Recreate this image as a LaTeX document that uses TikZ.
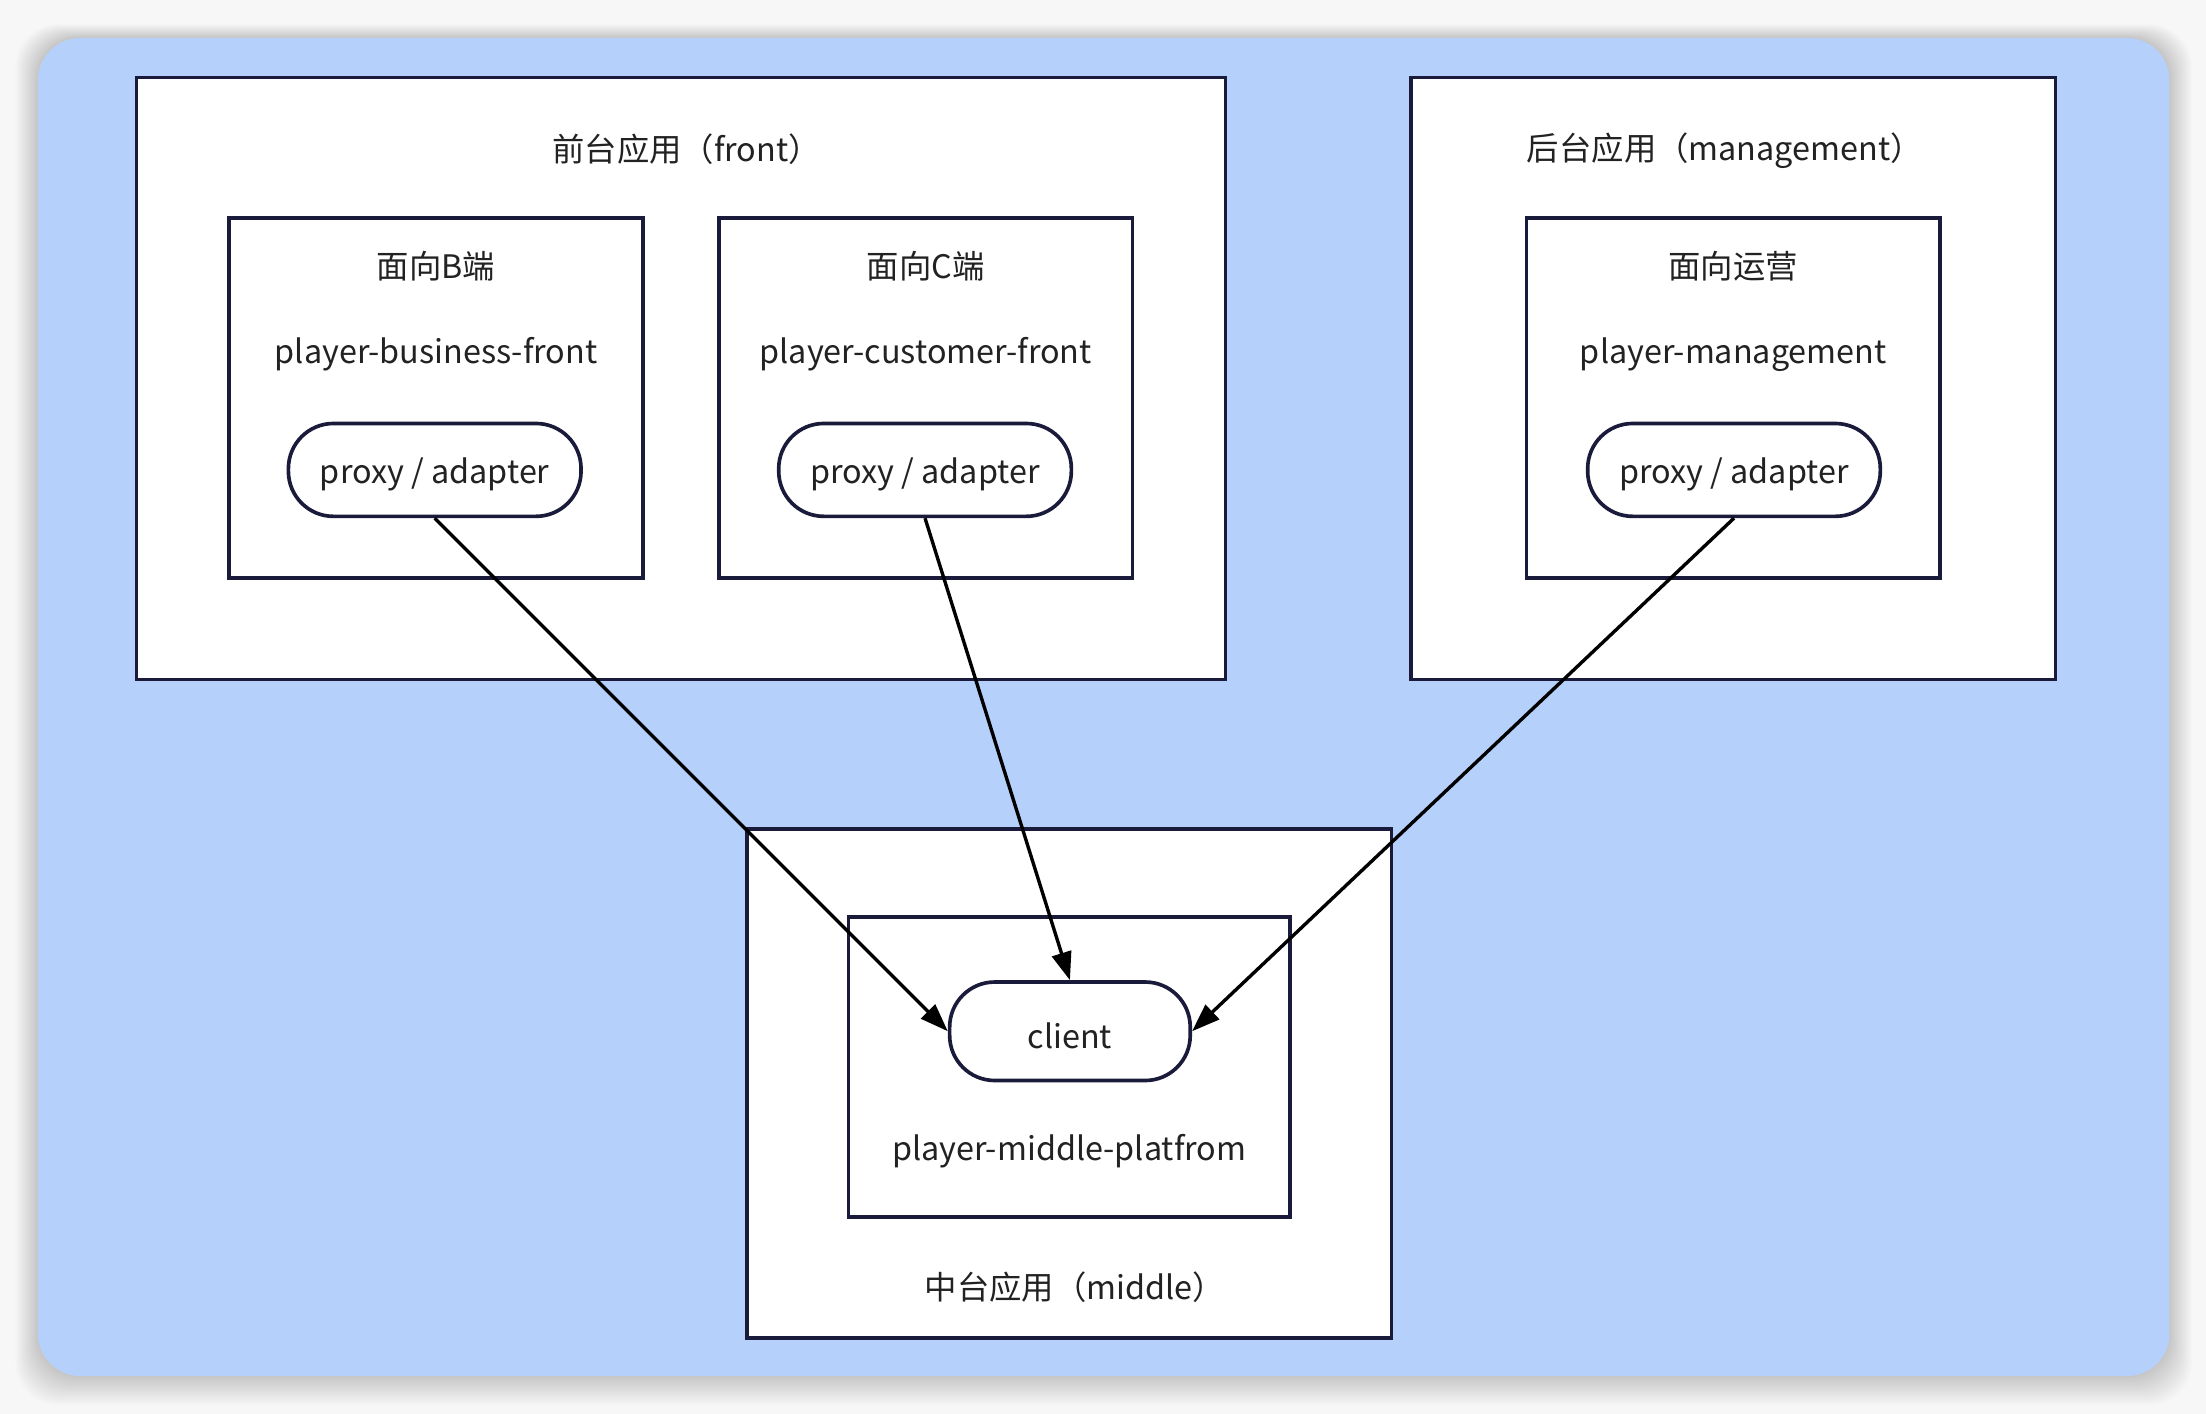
\documentclass[tikz,border=0pt]{standalone}
\usepackage{fontspec}
\setmainfont{Noto Sans CJK SC}
\usetikzlibrary{arrows.meta}
\definecolor{bgblue}{RGB}{181,209,251}
\definecolor{edge}{RGB}{26,26,58}
\definecolor{txt}{RGB}{34,34,34}
\tikzset{
  box/.style={draw=edge,line width=2.6pt,fill=white,rectangle,inner sep=0pt},
  pill/.style={draw=edge,line width=2.6pt,fill=white,rectangle,rounded corners=32pt,inner sep=0pt},
  lbl/.style={text=txt,font=\fontsize{23}{27}\selectfont,inner sep=0pt,yshift=-3pt},
  conn/.style={draw=black,line width=2.4pt,-{Triangle[length=20pt,width=14pt]}}
}
\begin{document}
\begin{tikzpicture}[x=1pt,y=-1pt]
\useasboundingbox (0,0) rectangle (1568,1005);
\fill[white!97!black] (0,0) rectangle (1568,1005);
\foreach \i in {1,...,16}{
  \fill[black,opacity=0.010,rounded corners=30pt] (27-\i,27-\i*0.6) rectangle (1542+\i,978+\i*1.3);
}
\fill[bgblue,rounded corners=30pt] (27,27) rectangle (1542,978);

% containers
\node[box,minimum width=774pt,minimum height=428pt] (front) at (484,269) {};
\node[box,minimum width=458pt,minimum height=428pt] (mgmt) at (1232,269) {};
\node[box,minimum width=458pt,minimum height=362pt] (middle) at (760,770) {};

\node[lbl] (fronttitle) at (488,103) {前台应用（front）};
\node[lbl] (mgmttitle) at (1226,104) {后台应用（management）};
\node[lbl] (middletitle) at (764,912) {中台应用（middle）};

% inner boxes
\node[box,minimum width=294pt,minimum height=256pt] (bbox) at (310,283) {};
\node[box,minimum width=294pt,minimum height=256pt] (cbox) at (658,283) {};
\node[box,minimum width=294pt,minimum height=256pt] (mbox) at (1232,283) {};
\node[box,minimum width=314pt,minimum height=213pt] (pbox) at (760,758.5) {};

\node[lbl] (bhead) at (310,186) {面向B端};
\node[lbl] (chead) at (658,186) {面向C端};
\node[lbl] (mhead) at (1232,186) {面向运营};
\node[lbl] (bname) at (310,249) {player-business-front};
\node[lbl] (cname) at (658,249) {player-customer-front};
\node[lbl] (mname) at (1232,249) {player-management};
\node[lbl] (pname) at (760,815) {player-middle-platfrom};

% pills
\node[pill,minimum width=208pt,minimum height=66pt] (bproxy) at (309,334) {};
\node[pill,minimum width=208pt,minimum height=66pt] (cproxy) at (657.5,334) {};
\node[pill,minimum width=208pt,minimum height=66pt] (mproxy) at (1232.5,334) {};
\node[pill,minimum width=171pt,minimum height=70pt] (client) at (760.5,733) {};
\node[lbl] (bproxyt) at (bproxy) {proxy / adapter};
\node[lbl] (cproxyt) at (cproxy) {proxy / adapter};
\node[lbl] (mproxyt) at (mproxy) {proxy / adapter};
\node[lbl] (clientt) at (client) {client};

% connectors
\draw[conn] (bproxy.south) -- (client.west);
\draw[conn] (cproxy.south) -- (client.north);
\draw[conn] (mproxy.south) -- (client.east);
\end{tikzpicture}
\end{document}
